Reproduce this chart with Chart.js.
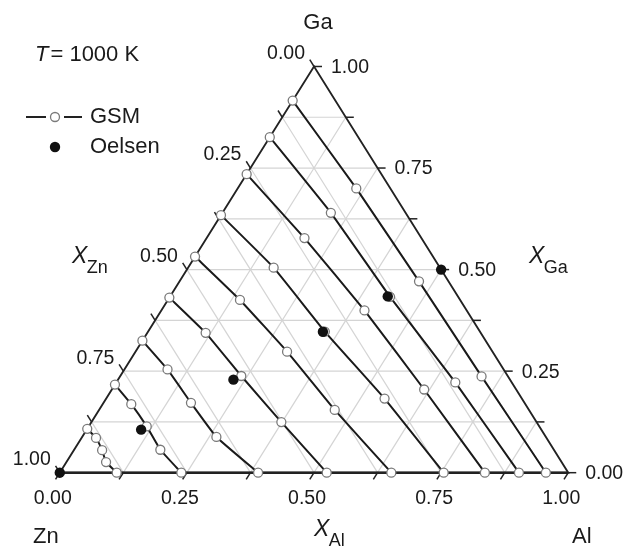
<!DOCTYPE html>
<html>
<head>
<meta charset="utf-8">
<script src="https://cdn.jsdelivr.net/npm/chart.js@4.4.0/dist/chart.umd.min.js"></script>
<style>
  html, body { margin: 0; padding: 0; background: #fff; }
</style>
</head>
<body>
<canvas id="myChart" width="630" height="547"></canvas>
<script>
// sections through the Zn corner: x_Al / (x_Al + x_Ga)
const sections = [0, 0.25, 0.5, 0.75, 1];

// GSM lines: x_Zn where each line crosses the sections (Ga-Zn edge -> Zn-Al edge)
const gsm1 = [0.084, 0.067, 0.058, 0.052, 0.044];
const gsm2 = [0.174, 0.147, 0.134, 0.111, 0.097];
const gsm3 = [0.265, 0.230, 0.201, 0.181, 0.164];
const gsm4 = [0.366, 0.327, 0.305, 0.270, 0.245];
const gsm5 = [0.468, 0.433, 0.404, 0.382, 0.348];
const gsm6 = [0.569, 0.541, 0.524, 0.502, 0.475];
const gsm7 = [0.675, 0.661, 0.656, 0.648, 0.610];
const gsm8 = [0.783, 0.775, 0.772, 0.774, 0.761];
const gsm9 = [0.892, 0.886, 0.889, 0.896, 0.888];
const gsmLines = [gsm1, gsm2, gsm3, gsm4, gsm5, gsm6, gsm7, gsm8, gsm9];

// Oelsen points
const oelsenAl = [0.500, 0.428, 0.344, 0.227, 0.107, 0.000];
const oelsenGa = [0.500, 0.434, 0.347, 0.229, 0.106, 0.000];

const tickLabels = ['0.00', '0.25', '0.50', '0.75', '1.00'];
const gridStep = 0.125;

const FONT = "'Liberation Sans', Arial, sans-serif";

// ternary (x_Al, x_Ga) -> plane coordinates
function toXY(al, ga) {
    return { x: al + ga / 2, y: ga };
}

let datasets = gsmLines.map(function(zn) {
    return {
        label: 'GSM',
        order: 1,
        data: sections.map(function(s, i) {
            return toXY((1 - zn[i]) * s, (1 - zn[i]) * (1 - s));
        }),
        showLine: true,
        borderColor: '#1a1a1a',
        borderWidth: 2,
        tension: 0.1,
        pointRadius: 4.5,
        pointBorderWidth: 1.3,
        pointBorderColor: '#7a7a7a',
        pointBackgroundColor: '#ffffff'
    };
});
datasets.push({
    label: 'Oelsen',
    order: 0,
    data: oelsenAl.map(function(al, i) { return toXY(al, oelsenGa[i]); }),
    showLine: false,
    pointRadius: 5.2,
    pointBorderWidth: 0,
    pointBackgroundColor: '#111111',
    clip: false
});

const ternaryFrame = {
    id: 'ternaryFrame',
    beforeDatasetsDraw(chart) {
        const ctx = chart.ctx;
        const sx = chart.scales.x, sy = chart.scales.y;
        const P = function(al, ga) {
            return [sx.getPixelForValue(al + ga / 2), sy.getPixelForValue(ga)];
        };
        const seg = function(a, b) {
            ctx.beginPath();
            ctx.moveTo(a[0], a[1]);
            ctx.lineTo(b[0], b[1]);
            ctx.stroke();
        };
        ctx.save();
        // grid
        ctx.strokeStyle = '#d4d4d4';
        ctx.lineWidth = 1.2;
        for (let k = 1; k < 8; k++) {
            const v = k * gridStep;
            seg(P(0, v), P(1 - v, v));
            seg(P(v, 0), P(v, 1 - v));
            seg(P(0, 1 - v), P(1 - v, 0));
        }
        // edges
        ctx.strokeStyle = '#222';
        ctx.lineWidth = 1.8;
        ctx.beginPath();
        const a = P(0, 0), b = P(1, 0), c = P(0, 1);
        ctx.moveTo(a[0], a[1]);
        ctx.lineTo(b[0], b[1]);
        ctx.lineTo(c[0], c[1]);
        ctx.closePath();
        ctx.stroke();
        ctx.lineWidth = 2.6;
        seg(a, b);
        // ticks
        ctx.lineWidth = 1.5;
        const up = [c[0] - b[0], c[1] - b[1]];
        const upLen = Math.hypot(up[0], up[1]);
        const dn = [a[0] - c[0], a[1] - c[1]];
        const dnLen = Math.hypot(dn[0], dn[1]);
        const L = 8;
        for (let k = 0; k <= 8; k++) {
            const v = k * gridStep;
            const r = P(1 - v, v);
            seg(r, [r[0] + L, r[1]]);
            const l = P(0, 1 - v);
            seg(l, [l[0] + up[0] / upLen * L, l[1] + up[1] / upLen * L]);
            const d = P(v, 0);
            seg(d, [d[0] + dn[0] / dnLen * L, d[1] + dn[1] / dnLen * L]);
        }
        ctx.restore();
    },
    afterDraw(chart) {
        const ctx = chart.ctx;
        const sx = chart.scales.x, sy = chart.scales.y;
        const P = function(al, ga) {
            return [sx.getPixelForValue(al + ga / 2), sy.getPixelForValue(ga)];
        };
        ctx.save();
        ctx.fillStyle = '#1a1a1a';
        ctx.textBaseline = 'middle';
        ctx.font = '19.5px ' + FONT;
        tickLabels.forEach(function(t, i) {
            const v = i * 0.25;
            const r = P(1 - v, v);
            ctx.textAlign = 'left';
            ctx.fillText(t, r[0] + 17, r[1] + 1);
            const l = P(0, 1 - v);
            ctx.textAlign = 'right';
            ctx.fillText(t, l[0] - 9, l[1] - 13);
            const d = P(v, 0);
            ctx.textAlign = 'center';
            ctx.fillText(t, d[0] - 7, d[1] + 26);
        });

        // corner labels
        ctx.font = '22px ' + FONT;
        ctx.textAlign = 'center';
        const top = P(0, 1);
        ctx.fillText('Ga', top[0] + 4, 23);
        ctx.textAlign = 'left';
        ctx.fillText('Zn', 33, 537);
        ctx.fillText('Al', 572, 537);

        // axis titles
        const axisTitle = function(sub, x, y) {
            ctx.textAlign = 'left';
            ctx.font = 'italic 23px ' + FONT;
            ctx.fillText('X', x, y);
            const w = ctx.measureText('X').width;
            ctx.font = '18px ' + FONT;
            ctx.fillText(sub, x + w - 0.5, y + 11);
        };
        axisTitle('Zn', 72, 257);
        axisTitle('Ga', 529, 257);
        axisTitle('Al', 314, 530);

        // temperature
        ctx.textAlign = 'left';
        ctx.font = 'italic 22px ' + FONT;
        ctx.fillText('T', 35, 55);
        const tw = ctx.measureText('T').width;
        ctx.font = '22px ' + FONT;
        ctx.fillText('= 1000 K', 35 + tw + 2, 55);

        // legend
        ctx.strokeStyle = '#222';
        ctx.lineWidth = 2;
        ctx.beginPath();
        ctx.moveTo(26, 117); ctx.lineTo(46, 117);
        ctx.moveTo(64, 117); ctx.lineTo(82, 117);
        ctx.stroke();
        ctx.beginPath();
        ctx.arc(55, 117, 4.5, 0, Math.PI * 2);
        ctx.fillStyle = '#fff';
        ctx.fill();
        ctx.strokeStyle = '#7a7a7a';
        ctx.lineWidth = 1.3;
        ctx.stroke();
        ctx.beginPath();
        ctx.arc(55, 147, 5.2, 0, Math.PI * 2);
        ctx.fillStyle = '#111';
        ctx.fill();
        ctx.fillStyle = '#1a1a1a';
        ctx.fillText('GSM', 90, 117);
        ctx.fillText('Oelsen', 90, 147);
        ctx.restore();
    }
};

let ctx = document.getElementById('myChart').getContext('2d');
let myChart = new Chart(ctx, {
    type: 'scatter',
    data: { datasets: datasets },
    options: {
        responsive: false,
        animation: false,
        layout: { padding: 0 },
        scales: {
            x: { type: 'linear', min: -55 / 518, max: 575 / 518, display: false },
            y: { type: 'linear', min: -70 / 415, max: 477 / 415, display: false }
        },
        plugins: {
            legend: { display: false },
            tooltip: { enabled: false }
        }
    },
    plugins: [ternaryFrame]
});
</script>
</body>
</html>
